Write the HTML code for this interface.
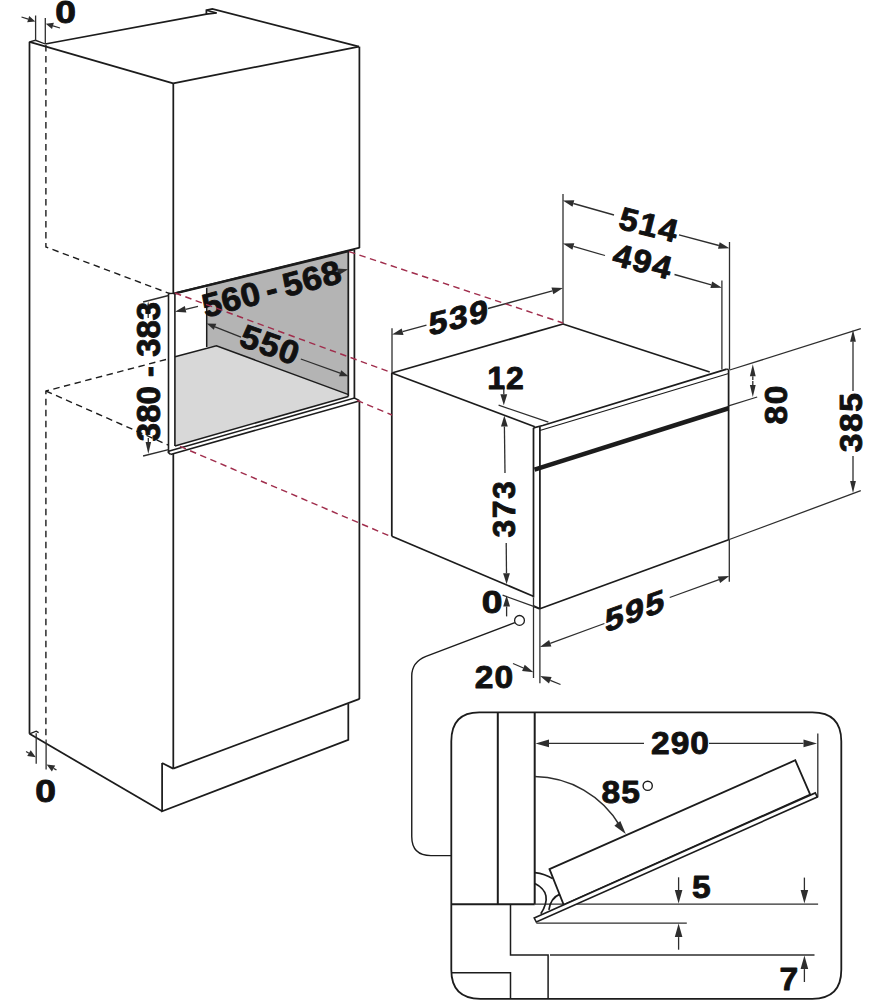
<!DOCTYPE html>
<html><head><meta charset="utf-8"><style>
html,body{margin:0;padding:0;background:#fff;}
body{width:885px;height:1000px;overflow:hidden;}
svg{display:block;}
</style></head><body>
<svg width="885" height="1000" viewBox="0 0 885 1000" stroke-linecap="butt" stroke-linejoin="miter">
<rect width="885" height="1000" fill="#fff"/>
<path d="M206.7,285.8 L348.6,251.2 L348.6,394.6 L216.4,345.8 L206.7,347 Z" fill="#b4b4b4"/>
<path d="M175,356.8 L216.4,345.8 L348.6,394.6 L348.6,396.5 L175,445.9 Z" fill="#d8d8d8"/>
<path d="M45.9,45.0 L45.9,247.0 L170.0,293.7" stroke="#1c1c1c" stroke-width="1.40" fill="none" stroke-dasharray="6.5,4.5"/>
<path d="M166.0,359.5 L45.9,391.0 L45.9,737.0" stroke="#1c1c1c" stroke-width="1.40" fill="none" stroke-dasharray="6.5,4.5"/>
<path d="M45.9,391.0 L168.5,445.2" stroke="#1c1c1c" stroke-width="1.40" fill="none" stroke-dasharray="6.5,4.5"/>
<path d="M29.5,41.8 L29.5,733.8" stroke="#1c1c1c" stroke-width="1.75" fill="none" />
<path d="M29.5,41.8 L35.5,40.3 L45.3,44.0" stroke="#1c1c1c" stroke-width="1.30" fill="none" />
<path d="M29.5,41.8 L173.2,83.3" stroke="#1c1c1c" stroke-width="1.75" fill="none" />
<path d="M45.3,44.0 L206.4,14.1 L216.6,12.9" stroke="#1c1c1c" stroke-width="1.60" fill="none" />
<path d="M206.4,14.1 L206.4,10.2 L212.3,8.8 L359.0,46.6" stroke="#1c1c1c" stroke-width="1.75" fill="none" />
<path d="M206.4,10.2 L216.6,12.9" stroke="#1c1c1c" stroke-width="1.60" fill="none" />
<path d="M173.2,83.3 L359.0,46.6" stroke="#1c1c1c" stroke-width="1.75" fill="none" />
<path d="M359.4,46.6 L359.4,248.0" stroke="#1c1c1c" stroke-width="1.75" fill="none" />
<path d="M173.3,83.3 L173.3,294.0" stroke="#1c1c1c" stroke-width="1.75" fill="none" />
<path d="M173.3,293.7 L359.7,247.6" stroke="#1c1c1c" stroke-width="1.75" fill="none" />
<path d="M175.0,293.3 L348.6,251.2" stroke="#1c1c1c" stroke-width="2.40" fill="none" />
<path d="M168.5,293.5 L168.5,452.7" stroke="#1c1c1c" stroke-width="1.60" fill="none" />
<path d="M174.9,293.5 L174.9,446.0" stroke="#1c1c1c" stroke-width="1.60" fill="none" />
<path d="M168.5,293.5 L174.9,293.3" stroke="#1c1c1c" stroke-width="1.30" fill="none" />
<path d="M206.7,287.8 L206.7,347.0" stroke="#1c1c1c" stroke-width="1.50" fill="none" />
<path d="M175.0,356.8 L216.4,345.8 L348.6,394.6" stroke="#1c1c1c" stroke-width="1.50" fill="none" />
<path d="M348.3,251.2 L348.3,396.4" stroke="#1c1c1c" stroke-width="1.75" fill="none" />
<path d="M354.4,249.7 L354.4,398.1" stroke="#1c1c1c" stroke-width="1.75" fill="none" />
<path d="M348.6,251.2 L354.5,249.7" stroke="#1c1c1c" stroke-width="1.30" fill="none" />
<path d="M174.9,445.9 L348.4,396.4" stroke="#1c1c1c" stroke-width="1.60" fill="none" />
<path d="M168.5,451.3 L354.4,398.1 L359.2,400.4" stroke="#1c1c1c" stroke-width="1.60" fill="none" />
<path d="M170.5,454.4 L359.2,400.9" stroke="#1c1c1c" stroke-width="1.60" fill="none" />
<path d="M168.5,451.3 L168.5,452.7 L170.5,454.4" stroke="#1c1c1c" stroke-width="1.60" fill="none" />
<path d="M173.3,454.0 L173.3,768.6" stroke="#1c1c1c" stroke-width="1.75" fill="none" />
<path d="M359.4,400.4 L359.4,699.0" stroke="#1c1c1c" stroke-width="1.75" fill="none" />
<path d="M173.2,768.6 L359.6,698.9" stroke="#1c1c1c" stroke-width="1.75" fill="none" />
<path d="M162.1,763.0 L162.1,811.3 L348.3,739.8 L348.3,704.0" stroke="#1c1c1c" stroke-width="1.75" fill="none" />
<path d="M162.1,763.0 L173.2,768.6" stroke="#1c1c1c" stroke-width="1.75" fill="none" />
<path d="M29.5,733.8 L162.1,811.3" stroke="#1c1c1c" stroke-width="1.75" fill="none" />
<path d="M29.5,733.8 L36.2,731.2 L38.6,732.6" stroke="#1c1c1c" stroke-width="1.40" fill="none" />
<path d="M35.6,15.5 L35.6,41.0" stroke="#2e2e2e" stroke-width="1.30" fill="none" />
<path d="M45.3,18.0 L45.3,44.0" stroke="#2e2e2e" stroke-width="1.30" fill="none" />
<path d="M35.3,21.5 L29.2,16.1 L27.2,22.3 Z" fill="#2e2e2e"/>
<path d="M28.2,19.2 L21.5,17.0" stroke="#2e2e2e" stroke-width="1.3"/>
<path d="M45.8,23.7 L52.0,29.0 L53.9,22.8 Z" fill="#2e2e2e"/>
<path d="M53.0,25.9 L60.0,28.0" stroke="#2e2e2e" stroke-width="1.3"/>
<text transform="translate(65.50,11.80) scale(1.200,1)" x="0" y="11.10" text-anchor="middle" font-family="Liberation Sans, sans-serif" font-weight="bold" font-size="31" letter-spacing="0.0" word-spacing="0" fill="#111" stroke="#111" stroke-width="0.9" stroke-linejoin="round">0</text>
<path d="M36.2,733.3 L36.2,763.7" stroke="#2e2e2e" stroke-width="1.30" fill="none" />
<path d="M46.1,739.5 L46.1,769.5" stroke="#2e2e2e" stroke-width="1.30" fill="none" />
<path d="M35.8,757.3 L30.7,750.3 L27.2,756.1 Z" fill="#2e2e2e"/>
<path d="M28.9,753.2 L26.1,751.5" stroke="#2e2e2e" stroke-width="1.3"/>
<path d="M46.6,764.5 L51.9,771.4 L55.2,765.4 Z" fill="#2e2e2e"/>
<path d="M53.6,768.4 L56.5,770.0" stroke="#2e2e2e" stroke-width="1.3"/>
<text transform="translate(45.70,790.80) scale(1.200,1)" x="0" y="11.10" text-anchor="middle" font-family="Liberation Sans, sans-serif" font-weight="bold" font-size="31" letter-spacing="0.0" word-spacing="0" fill="#111" stroke="#111" stroke-width="0.9" stroke-linejoin="round">0</text>
<path d="M143.1,302.0 L168.5,295.5" stroke="#2e2e2e" stroke-width="1.30" fill="none" />
<path d="M143.1,456.0 L168.5,449.6" stroke="#2e2e2e" stroke-width="1.30" fill="none" />
<path d="M148.2,301.3 L145.4,313.3 L150.9,313.3 Z" fill="#2e2e2e"/>
<path d="M148.2,313.3 L148.2,318.0" stroke="#2e2e2e" stroke-width="1.3"/>
<path d="M148.3,454.0 L151.1,442.0 L145.6,442.0 Z" fill="#2e2e2e"/>
<path d="M148.3,442.0 L148.3,438.0" stroke="#2e2e2e" stroke-width="1.3"/>
<text transform="translate(148.50,371.50) rotate(-90)" x="0" y="11.81" text-anchor="middle" font-family="Liberation Sans, sans-serif" font-weight="bold" font-size="33" letter-spacing="0.0" word-spacing="0" fill="#111" stroke="#111" stroke-width="0.9" stroke-linejoin="round">380 - 383</text>
<path d="M174.9,311.8 L186.4,312.6 L184.8,305.9 Z" fill="#2e2e2e"/>
<path d="M185.6,309.3 L198.0,306.3" stroke="#2e2e2e" stroke-width="1.3"/>
<path d="M348.3,269.3 L336.8,268.6 L338.4,275.2 Z" fill="#2e2e2e"/>
<path d="M337.6,271.9 L334.0,272.8" stroke="#2e2e2e" stroke-width="1.3"/>
<text transform="translate(271.50,288.50) rotate(-14.5) scale(1.050,1)" x="0" y="11.81" text-anchor="middle" font-family="Liberation Sans, sans-serif" font-weight="bold" font-size="33" letter-spacing="0.5" word-spacing="-4" fill="#111" stroke="#111" stroke-width="0.9" stroke-linejoin="round">560 - 568</text>
<path d="M206.7,323.4 L213.8,329.8 L216.3,323.7 Z" fill="#2e2e2e"/>
<path d="M215.0,326.8 L241.0,337.2" stroke="#2e2e2e" stroke-width="1.3"/>
<path d="M348.6,376.3 L341.2,370.2 L339.0,376.3 Z" fill="#2e2e2e"/>
<path d="M340.1,373.2 L300.8,359.0" stroke="#2e2e2e" stroke-width="1.3"/>
<text transform="translate(270.50,344.50) rotate(20) scale(1.050,1)" x="0" y="11.81" text-anchor="middle" font-family="Liberation Sans, sans-serif" font-weight="bold" font-size="33" letter-spacing="1.0" word-spacing="0" fill="#111" stroke="#111" stroke-width="0.9" stroke-linejoin="round">550</text>
<path d="M391.8,373.0 L391.8,536.3" stroke="#1c1c1c" stroke-width="1.75" fill="none" />
<path d="M391.8,373.0 L563.0,324.0" stroke="#1c1c1c" stroke-width="1.75" fill="none" />
<path d="M563.0,324.0 L709.7,372.0" stroke="#1c1c1c" stroke-width="1.75" fill="none" />
<path d="M391.8,373.0 L534.8,426.7" stroke="#1c1c1c" stroke-width="1.75" fill="none" />
<path d="M391.8,536.3 L533.3,596.2" stroke="#1c1c1c" stroke-width="1.75" fill="none" />
<path d="M533.5,427.8 L533.5,597.5" stroke="#1c1c1c" stroke-width="1.75" fill="none" />
<path d="M539.9,427.0 L539.9,608.7" stroke="#1c1c1c" stroke-width="1.75" fill="none" />
<path d="M533.5,427.8 L542.7,425.5 L726.7,369.2" stroke="#1c1c1c" stroke-width="1.75" fill="none" />
<path d="M539.9,430.5 L728.6,373.5" stroke="#1c1c1c" stroke-width="1.30" fill="none" />
<path d="M539.9,608.7 L729.3,539.5" stroke="#1c1c1c" stroke-width="1.75" fill="none" />
<path d="M533.3,606.0 L539.9,608.9" stroke="#1c1c1c" stroke-width="2.00" fill="none" />
<path d="M728.6,369.5 L728.6,539.5" stroke="#1c1c1c" stroke-width="1.75" fill="none" />
<path d="M726.7,369.2 L728.6,369.5" stroke="#1c1c1c" stroke-width="1.30" fill="none" />
<path d="M534.5,469.6 L728.6,408.2" stroke="#1c1c1c" stroke-width="4.60" fill="none" />
<path d="M563.0,194.0 L563.0,324.0" stroke="#2e2e2e" stroke-width="1.30" fill="none" />
<path d="M729.5,242.0 L729.5,369.5" stroke="#2e2e2e" stroke-width="1.30" fill="none" />
<path d="M721.9,280.6 L721.9,369.5" stroke="#2e2e2e" stroke-width="1.30" fill="none" />
<path d="M392.0,328.2 L392.0,373.0" stroke="#2e2e2e" stroke-width="1.30" fill="none" />
<path d="M392.0,334.6 L403.5,335.0 L401.7,328.4 Z" fill="#2e2e2e"/>
<path d="M402.6,331.7 L426.5,325.2" stroke="#2e2e2e" stroke-width="1.3"/>
<path d="M563.0,288.0 L551.5,287.6 L553.3,294.2 Z" fill="#2e2e2e"/>
<path d="M552.4,290.9 L488.0,308.5" stroke="#2e2e2e" stroke-width="1.3"/>
<text transform="translate(459.00,316.80) matrix(1,-0.25,0,1,0,0) scale(1.050,1)" x="0" y="11.46" text-anchor="middle" font-family="Liberation Sans, sans-serif" font-weight="bold" font-size="32" letter-spacing="1.5" word-spacing="0" fill="#111" stroke="#111" stroke-width="0.9" stroke-linejoin="round">539</text>
<path d="M562.8,200.5 L572.5,206.8 L574.3,200.2 Z" fill="#2e2e2e"/>
<path d="M573.4,203.5 L614.0,215.0" stroke="#2e2e2e" stroke-width="1.3"/>
<path d="M729.5,248.3 L719.7,242.2 L718.0,248.8 Z" fill="#2e2e2e"/>
<path d="M718.9,245.5 L679.0,234.9" stroke="#2e2e2e" stroke-width="1.3"/>
<text transform="translate(649.50,224.50) rotate(14) scale(1.050,1)" x="0" y="11.46" text-anchor="middle" font-family="Liberation Sans, sans-serif" font-weight="bold" font-size="32" letter-spacing="1.5" word-spacing="0" fill="#111" stroke="#111" stroke-width="0.9" stroke-linejoin="round">514</text>
<path d="M562.8,243.4 L572.4,249.7 L574.3,243.2 Z" fill="#2e2e2e"/>
<path d="M573.4,246.4 L605.0,255.5" stroke="#2e2e2e" stroke-width="1.3"/>
<path d="M721.9,287.8 L712.2,281.6 L710.4,288.1 Z" fill="#2e2e2e"/>
<path d="M711.3,284.8 L674.5,274.5" stroke="#2e2e2e" stroke-width="1.3"/>
<text transform="translate(643.30,261.00) rotate(14.5) scale(1.050,1)" x="0" y="11.46" text-anchor="middle" font-family="Liberation Sans, sans-serif" font-weight="bold" font-size="32" letter-spacing="1.5" word-spacing="0" fill="#111" stroke="#111" stroke-width="0.9" stroke-linejoin="round">494</text>
<path d="M498.6,405.2 L548.4,422.1" stroke="#2e2e2e" stroke-width="1.30" fill="none" />
<path d="M503.8,405.2 L507.2,394.2 L500.4,394.2 Z" fill="#2e2e2e"/>
<path d="M503.8,394.2 L503.8,387.0" stroke="#2e2e2e" stroke-width="1.3"/>
<text transform="translate(506.00,378.00)" x="0" y="11.46" text-anchor="middle" font-family="Liberation Sans, sans-serif" font-weight="bold" font-size="32" letter-spacing="1.0" word-spacing="0" fill="#111" stroke="#111" stroke-width="0.9" stroke-linejoin="round">12</text>
<path d="M504.3,415.6 L501.0,426.6 L507.8,426.6 Z" fill="#2e2e2e"/>
<path d="M504.4,426.6 L505.0,473.0" stroke="#2e2e2e" stroke-width="1.3"/>
<path d="M506.6,584.2 L509.9,573.2 L503.1,573.2 Z" fill="#2e2e2e"/>
<path d="M506.5,573.2 L506.2,543.0" stroke="#2e2e2e" stroke-width="1.3"/>
<text transform="translate(503.30,508.60) rotate(-90)" x="0" y="11.46" text-anchor="middle" font-family="Liberation Sans, sans-serif" font-weight="bold" font-size="32" letter-spacing="1.5" word-spacing="0" fill="#111" stroke="#111" stroke-width="0.9" stroke-linejoin="round">373</text>
<path d="M506.6,595.5 L503.2,606.5 L510.0,606.5 Z" fill="#2e2e2e"/>
<path d="M506.6,606.5 L506.6,616.4" stroke="#2e2e2e" stroke-width="1.3"/>
<path d="M502.6,595.2 L535.0,606.8" stroke="#2e2e2e" stroke-width="1.30" fill="none" />
<text transform="translate(492.00,602.00) scale(1.200,1)" x="0" y="11.10" text-anchor="middle" font-family="Liberation Sans, sans-serif" font-weight="bold" font-size="31" letter-spacing="0.0" word-spacing="0" fill="#111" stroke="#111" stroke-width="0.9" stroke-linejoin="round">0</text>
<path d="M729.7,370.0 L860.8,328.7" stroke="#2e2e2e" stroke-width="1.30" fill="none" />
<path d="M728.6,405.9 L757.2,397.0" stroke="#2e2e2e" stroke-width="1.30" fill="none" />
<path d="M752.8,364.2 L749.9,376.2 L755.7,376.2 Z" fill="#2e2e2e"/>
<path d="M752.8,376.2 L752.8,380.0" stroke="#2e2e2e" stroke-width="1.3"/>
<path d="M752.8,397.0 L755.7,385.0 L749.9,385.0 Z" fill="#2e2e2e"/>
<path d="M752.8,385.0 L752.8,381.0" stroke="#2e2e2e" stroke-width="1.3"/>
<text transform="translate(775.40,404.20) rotate(-90) scale(1.050,1)" x="0" y="11.46" text-anchor="middle" font-family="Liberation Sans, sans-serif" font-weight="bold" font-size="32" letter-spacing="1.5" word-spacing="0" fill="#111" stroke="#111" stroke-width="0.9" stroke-linejoin="round">80</text>
<path d="M853.0,329.8 L850.1,341.8 L855.9,341.8 Z" fill="#2e2e2e"/>
<path d="M853.0,341.8 L853.0,391.0" stroke="#2e2e2e" stroke-width="1.3"/>
<path d="M853.0,492.9 L855.9,480.9 L850.1,480.9 Z" fill="#2e2e2e"/>
<path d="M853.0,480.9 L853.0,456.0" stroke="#2e2e2e" stroke-width="1.3"/>
<path d="M729.3,539.5 L860.8,490.7" stroke="#2e2e2e" stroke-width="1.30" fill="none" />
<text transform="translate(850.30,421.80) rotate(-90) scale(1.050,1)" x="0" y="11.46" text-anchor="middle" font-family="Liberation Sans, sans-serif" font-weight="bold" font-size="32" letter-spacing="1.5" word-spacing="0" fill="#111" stroke="#111" stroke-width="0.9" stroke-linejoin="round">385</text>
<path d="M729.3,539.5 L729.3,581.8" stroke="#2e2e2e" stroke-width="1.30" fill="none" />
<path d="M533.5,597.5 L533.5,678.0" stroke="#2e2e2e" stroke-width="1.30" fill="none" />
<path d="M539.9,608.7 L539.9,683.3" stroke="#2e2e2e" stroke-width="1.30" fill="none" />
<path d="M539.9,647.1 L551.4,646.5 L549.1,640.1 Z" fill="#2e2e2e"/>
<path d="M550.2,643.3 L604.4,623.5" stroke="#2e2e2e" stroke-width="1.3"/>
<path d="M729.3,576.0 L717.8,576.5 L720.1,582.9 Z" fill="#2e2e2e"/>
<path d="M719.0,579.7 L669.7,597.5" stroke="#2e2e2e" stroke-width="1.3"/>
<text transform="translate(635.50,610.00) matrix(1,-0.37,0,1,0,0) scale(1.050,1)" x="0" y="11.46" text-anchor="middle" font-family="Liberation Sans, sans-serif" font-weight="bold" font-size="32" letter-spacing="1.5" word-spacing="0" fill="#111" stroke="#111" stroke-width="0.9" stroke-linejoin="round">595</text>
<path d="M533.5,672.3 L524.7,664.8 L522.1,671.1 Z" fill="#2e2e2e"/>
<path d="M523.4,668.0 L513.0,663.5" stroke="#2e2e2e" stroke-width="1.3"/>
<path d="M540.1,676.1 L549.0,683.4 L551.6,677.1 Z" fill="#2e2e2e"/>
<path d="M550.3,680.3 L560.5,684.5" stroke="#2e2e2e" stroke-width="1.3"/>
<text transform="translate(494.50,676.20) scale(1.050,1)" x="0" y="11.46" text-anchor="middle" font-family="Liberation Sans, sans-serif" font-weight="bold" font-size="32" letter-spacing="1.0" word-spacing="0" fill="#111" stroke="#111" stroke-width="0.9" stroke-linejoin="round">20</text>
<circle cx="519.5" cy="620.4" r="4.9" fill="white" stroke="#1c1c1c" stroke-width="1.3"/>
<path d="M514.8,622.6 L426,656.3 Q411.75,662 411.75,676 L411.75,836.5 Q411.75,855.6 431,855.6 L451.3,855.6" stroke="#1c1c1c" stroke-width="1.40" fill="none" />
<path d="M479.3,712.3 L812.3,712.3 Q841.3,712.3 841.3,741.3 L841.3,969.8 Q841.3,998.8 812.3,998.8 L480.3,998.8 Q451.3,998.8 451.3,969.8 L451.3,741.3 Q451.3,712.3 479.3,712.3 Z" stroke="#1c1c1c" stroke-width="1.80" fill="none" />
<path d="M497.8,712.3 L497.8,904.3" stroke="#1c1c1c" stroke-width="2.00" fill="none" />
<path d="M534.7,712.3 L534.7,904.3" stroke="#1c1c1c" stroke-width="2.00" fill="none" />
<path d="M451.3,904.3 L534.7,904.3" stroke="#1c1c1c" stroke-width="2.00" fill="none" />
<path d="M510.5,904.3 L510.5,955.1 L548.1,955.1 L548.1,998.8" stroke="#1c1c1c" stroke-width="1.50" fill="none" />
<path d="M451.3,972.8 L510.5,972.8 L510.5,998.8" stroke="#1c1c1c" stroke-width="1.50" fill="none" />
<path d="M534.7,904.2 L818.1,904.2" stroke="#2e2e2e" stroke-width="1.30" fill="none" />
<path d="M536.3,923.2 L686.8,923.2" stroke="#2e2e2e" stroke-width="1.30" fill="none" />
<path d="M550.0,955.0 L814.5,955.0" stroke="#2e2e2e" stroke-width="1.30" fill="none" />
<path d="M817.8,733.6 L817.8,797.1" stroke="#2e2e2e" stroke-width="1.30" fill="none" />
<path d="M535.5,743.4 L549.0,747.2 L549.0,739.6 Z" fill="#2e2e2e"/>
<path d="M549.0,743.4 L644.0,743.4" stroke="#2e2e2e" stroke-width="1.3"/>
<path d="M817.0,743.4 L803.5,739.6 L803.5,747.2 Z" fill="#2e2e2e"/>
<path d="M803.5,743.4 L709.0,743.4" stroke="#2e2e2e" stroke-width="1.3"/>
<text transform="translate(680.50,743.00) scale(1.050,1)" x="0" y="11.46" text-anchor="middle" font-family="Liberation Sans, sans-serif" font-weight="bold" font-size="32" letter-spacing="1.0" word-spacing="0" fill="#111" stroke="#111" stroke-width="0.9" stroke-linejoin="round">290</text>
<path d="M534.6,776.6 A101,101 0 0 1 620,826" stroke="#2e2e2e" stroke-width="1.50" fill="none" />
<path d="M625.8,834.0 L620.3,821.1 L614.4,825.8 Z" fill="#2e2e2e"/>
<path d="M617.4,823.5 L617.0,823.0" stroke="#2e2e2e" stroke-width="1.3"/>
<text transform="translate(621.20,791.80) scale(1.050,1)" x="0" y="11.46" text-anchor="middle" font-family="Liberation Sans, sans-serif" font-weight="bold" font-size="32" letter-spacing="1.0" word-spacing="0" fill="#111" stroke="#111" stroke-width="0.9" stroke-linejoin="round">85</text>
<circle cx="647.7" cy="785.8" r="4.6" fill="none" stroke="#1c1c1c" stroke-width="1.4"/>
<path d="M549.5,869.1 L795.3,760.3 L810.2,794.6 L563.7,904.9 Z" stroke="#1c1c1c" stroke-width="1.80" fill="white" />
<path d="M534.2,918 L815.3,792.9 L817.3,797.1 L536.3,922 Z" stroke="#1c1c1c" stroke-width="1.60" fill="white" />
<path d="M534.9,872.6 Q545,873.8 552.6,878.6" stroke="#1c1c1c" stroke-width="1.70" fill="none" />
<path d="M534.9,883.4 Q554,893 540.8,913.8" stroke="#1c1c1c" stroke-width="1.70" fill="none" />
<path d="M548.9,909.9 Q550.5,898 559.9,894.1" stroke="#1c1c1c" stroke-width="1.70" fill="none" />
<path d="M678.6,903.5 L682.4,890.0 L674.8,890.0 Z" fill="#2e2e2e"/>
<path d="M678.6,890.0 L678.6,877.3" stroke="#2e2e2e" stroke-width="1.3"/>
<path d="M678.6,923.6 L674.8,937.1 L682.4,937.1 Z" fill="#2e2e2e"/>
<path d="M678.6,937.1 L678.6,949.7" stroke="#2e2e2e" stroke-width="1.3"/>
<path d="M804.4,903.6 L808.2,890.1 L800.6,890.1 Z" fill="#2e2e2e"/>
<path d="M804.4,890.1 L804.4,877.6" stroke="#2e2e2e" stroke-width="1.3"/>
<path d="M804.4,955.6 L800.6,969.1 L808.2,969.1 Z" fill="#2e2e2e"/>
<path d="M804.4,969.1 L804.4,982.0" stroke="#2e2e2e" stroke-width="1.3"/>
<text transform="translate(701.40,886.10) scale(1.050,1)" x="0" y="11.46" text-anchor="middle" font-family="Liberation Sans, sans-serif" font-weight="bold" font-size="32" letter-spacing="0.0" word-spacing="0" fill="#111" stroke="#111" stroke-width="0.9" stroke-linejoin="round">5</text>
<text transform="translate(788.80,979.00) scale(1.050,1)" x="0" y="11.46" text-anchor="middle" font-family="Liberation Sans, sans-serif" font-weight="bold" font-size="32" letter-spacing="0.0" word-spacing="0" fill="#111" stroke="#111" stroke-width="0.9" stroke-linejoin="round">7</text>
<path d="M349.0,251.6 L563.0,323.0" stroke="#a02d4c" stroke-width="1.45" fill="none" stroke-dasharray="6.5,4.5"/>
<path d="M175.0,293.0 L392.0,372.8" stroke="#a02d4c" stroke-width="1.45" fill="none" stroke-dasharray="6.5,4.5"/>
<path d="M357.0,400.4 L392.0,415.0" stroke="#a02d4c" stroke-width="1.45" fill="none" stroke-dasharray="6.5,4.5"/>
<path d="M180.0,446.4 L392.0,537.0" stroke="#a02d4c" stroke-width="1.45" fill="none" stroke-dasharray="6.5,4.5"/>
</svg>
</body></html>
